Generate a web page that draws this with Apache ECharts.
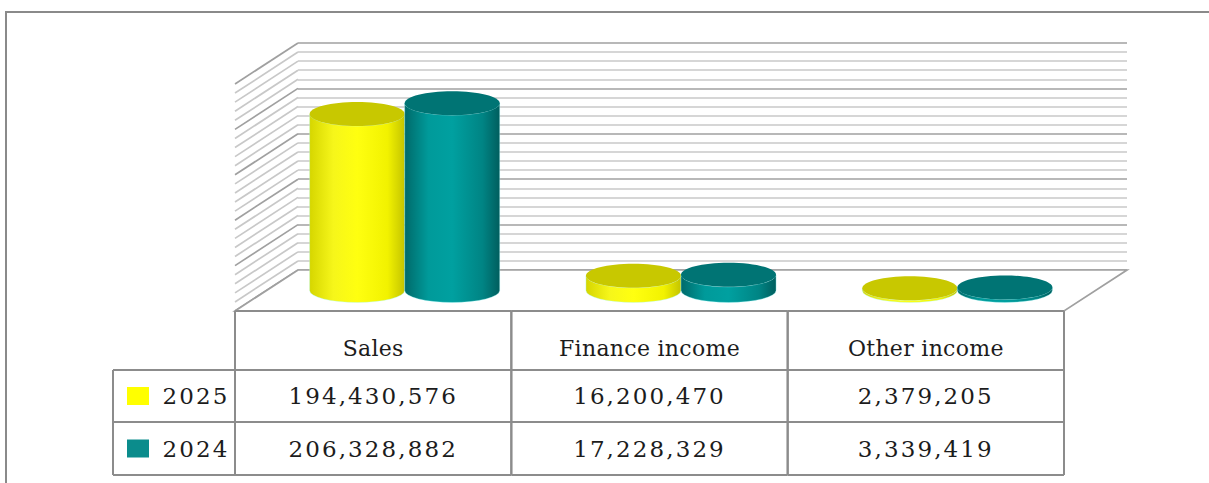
<!DOCTYPE html>
<html><head><meta charset="utf-8">
<script src="https://cdn.jsdelivr.net/npm/echarts@6/dist/echarts.min.js"></script>
<style>
html,body{margin:0;padding:0;background:#fff}
#chart{width:1209px;height:483px}
#chart text[style*="Liberation Serif"]{letter-spacing:2.1px}
#chart text[style*="Noto Serif"]{letter-spacing:0.3px}
</style></head><body><div id="chart"></div>
<script>
// ---- data ----
const categories = ['Sales', 'Finance income', 'Other income'];
const seriesNames = ['2025', '2024'];
const values2025 = [194430576, 16200470, 2379205];
const values2024 = [206328882, 17228329, 3339419];
const axisMin = 0;
const axisMax = 250000000;
const axisInterval = 50000000;
const minorSplit = 5;

// ---- style / layout constants ----
const DEPTH_X = -63, DEPTH_Y = 41;
const RY = 12;
const TEXT_COLOR = '#1c1c1c';
const LINE_COLOR = '#8c8c8c';
const palette = {
  '2025': {stops: ['#d6d600', '#f6f61a', '#ffff10', '#f2f200', '#c4c400'], top: '#c8c800', key: '#ffff00'},
  '2024': {stops: ['#006a6a', '#009a9a', '#00a0a0', '#008484', '#005e5e'], top: '#007474', key: '#0b8c8c'}
};
const seriesValues = [values2025, values2024];

const chart = echarts.init(document.getElementById('chart'), null, {renderer: 'svg'});

function fmt(v) { return v.toLocaleString('en-US'); }

function cylinderItem(sIdx) {
  const c = palette[seriesNames[sIdx]];
  return function (params, api) {
    const i = api.value(0), v = api.value(1);
    const base = api.coord([i, 0]);
    const top = api.coord([i, v]);
    const bw = api.size([1, 0])[0];
    const rx = bw * 0.172;
    const cx = base[0] + DEPTH_X / 2 + (sIdx === 0 ? -rx : rx);
    const yb = base[1] + DEPTH_Y / 2, yt = top[1] + DEPTH_Y / 2;
    const grad = new echarts.graphic.LinearGradient(0, 0, 1, 0, [
      {offset: 0, color: c.stops[0]}, {offset: 0.25, color: c.stops[1]},
      {offset: 0.5, color: c.stops[2]}, {offset: 0.82, color: c.stops[3]},
      {offset: 1, color: c.stops[4]}]);
    const d = 'M' + (cx - rx) + ' ' + yt + ' L' + (cx - rx) + ' ' + yb +
      ' A' + rx + ' ' + RY + ' 0 0 0 ' + (cx + rx) + ' ' + yb +
      ' L' + (cx + rx) + ' ' + yt +
      ' A' + rx + ' ' + RY + ' 0 0 1 ' + (cx - rx) + ' ' + yt + ' Z';
    return {type: 'group', children: [
      {type: 'path', shape: {pathData: d}, style: {fill: grad, stroke: 'rgba(170,255,255,0.35)', lineWidth: 1}},
      {type: 'ellipse', shape: {cx: cx, cy: yt, rx: rx, ry: RY}, style: {fill: c.top}}
    ]};
  };
}

function frameItem(params, api) {
  const cs = params.coordSys;
  const gx = cs.x, gy = cs.y, gw = cs.width, gh = cs.height;
  const children = [];
  const step = axisInterval / minorSplit;
  for (let v = axisMin; v <= axisMax + 1; v += step) {
    const y = api.coord([0, v])[1];
    const major = Math.round((v - axisMin) / step) % minorSplit === 0;
    children.push({type: 'line', shape: {x1: gx, y1: y, x2: gx + DEPTH_X, y2: y + DEPTH_Y},
      style: {stroke: major ? '#a0a0a0' : '#c8c8c8', lineWidth: 1.7}});
  }
  children.push({type: 'polygon', shape: {points: [[gx, gy + gh], [gx + gw, gy + gh],
      [gx + gw + DEPTH_X, gy + gh + DEPTH_Y], [gx + DEPTH_X, gy + gh + DEPTH_Y]]},
    style: {fill: '#ffffff', stroke: '#a0a0a0', lineWidth: 1.7}});
  return {type: 'group', children: children};
}

function tableItem(params, api) {
  const i = api.value(0);
  const p = api.coord([i, 0]);
  const bw = api.size([1, 0])[0];
  const cx = p[0] + DEPTH_X;
  const y0 = p[1] + DEPTH_Y;
  const L = cx - bw / 2, R = cx + bw / 2;
  const rows = [y0, y0 + 59, y0 + 111, y0 + 164];
  const ls = {stroke: LINE_COLOR, lineWidth: 2};
  const ch = [];
  ch.push({type: 'line', shape: {x1: L, y1: rows[0], x2: R, y2: rows[0]}, style: ls});
  for (let r = 1; r < 4; r++) ch.push({type: 'line', shape: {x1: L, y1: rows[r], x2: R, y2: rows[r]}, style: ls});
  ch.push({type: 'line', shape: {x1: L, y1: rows[0], x2: L, y2: rows[3]}, style: ls});
  ch.push({type: 'line', shape: {x1: R, y1: rows[0], x2: R, y2: rows[3]}, style: ls});
  ch.push({type: 'text', x: cx, y: rows[0] + 37, style: {text: categories[i], fontSize: 22,
    fontFamily: 'DejaVu Serif, Noto Serif', fill: TEXT_COLOR, align: 'center', verticalAlign: 'middle'}});
  for (let s = 0; s < 2; s++) {
    const ty = (rows[s + 1] + rows[s + 2]) / 2;
    ch.push({type: 'text', x: cx, y: ty, style: {text: fmt(seriesValues[s][i]), fontSize: 23,
      fontFamily: 'DejaVu Serif, Liberation Serif', fill: TEXT_COLOR, align: 'center', verticalAlign: 'middle'}});
  }
  if (i === 0) {
    const LL = L - 122;
    for (let r = 1; r < 4; r++) ch.push({type: 'line', shape: {x1: LL, y1: rows[r], x2: L, y2: rows[r]}, style: ls});
    ch.push({type: 'line', shape: {x1: LL, y1: rows[1], x2: LL, y2: rows[3]}, style: ls});
    for (let s = 0; s < 2; s++) {
      const ty = (rows[s + 1] + rows[s + 2]) / 2;
      ch.push({type: 'rect', shape: {x: LL + 14, y: ty - 9, width: 22, height: 18},
        style: {fill: palette[seriesNames[s]].key}});
      ch.push({type: 'text', x: LL + 83, y: ty, style: {text: seriesNames[s], fontSize: 23,
        fontFamily: 'DejaVu Serif, Liberation Serif', fill: TEXT_COLOR, align: 'center', verticalAlign: 'middle'}});
    }
  }
  return {type: 'group', children: ch};
}

const option = {
  animation: false,
  backgroundColor: '#ffffff',
  grid: {left: 298, top: 43, width: 829, height: 227},
  xAxis: {type: 'category', data: categories, show: false, boundaryGap: true},
  yAxis: {
    type: 'value', min: axisMin, max: axisMax, interval: axisInterval,
    axisLabel: {show: false}, axisLine: {show: false}, axisTick: {show: false},
    splitLine: {show: true, lineStyle: {color: '#a0a0a0', width: 1.7}},
    minorTick: {show: false, splitNumber: minorSplit},
    minorSplitLine: {show: true, lineStyle: {color: '#c8c8c8', width: 1.7}}
  },
  graphic: [{type: 'rect', silent: true, shape: {x: 6, y: 12, width: 1240, height: 520},
    style: {fill: 'none', stroke: '#8a8a8a', lineWidth: 2}}],
  series: [
    {type: 'custom', name: 'frame', silent: true, clip: false, data: [[0, 0]], encode: {x: 0, y: 1}, renderItem: frameItem, z: 1},
    {type: 'custom', name: seriesNames[0], silent: true, clip: false,
      data: categories.map((c, i) => [i, values2025[i]]), encode: {x: 0, y: 1}, renderItem: cylinderItem(0), z: 3},
    {type: 'custom', name: seriesNames[1], silent: true, clip: false,
      data: categories.map((c, i) => [i, values2024[i]]), encode: {x: 0, y: 1}, renderItem: cylinderItem(1), z: 4},
    {type: 'custom', name: 'table', silent: true, clip: false,
      data: categories.map((c, i) => [i, 0]), encode: {x: 0, y: 1}, renderItem: tableItem, z: 5}
  ]
};
chart.setOption(option);
</script></body></html>
